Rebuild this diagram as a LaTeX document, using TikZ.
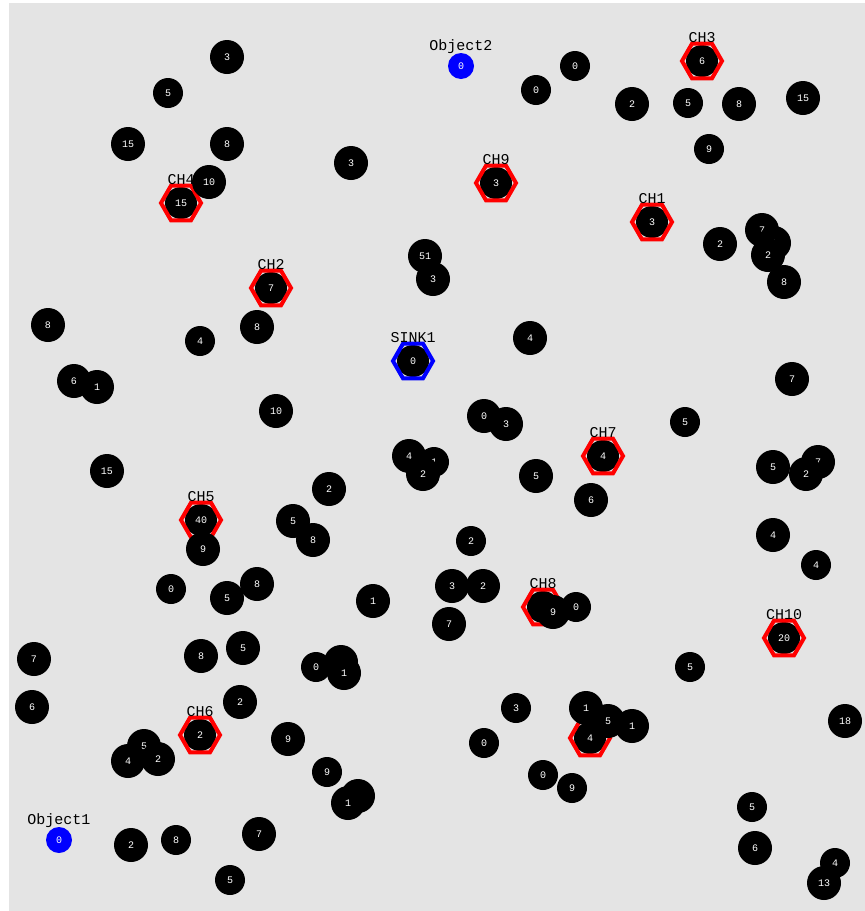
\documentclass[tikz,border=0pt]{standalone}
\usepackage{fontspec}
\setmonofont{Liberation Mono}
\usetikzlibrary{positioning,shapes.geometric}
\definecolor{cField}{HTML}{E4E4E4}
\definecolor{cHead}{HTML}{FF0000}
\definecolor{cSink}{HTML}{0000FF}
\newcommand{\labfont}{\ttfamily\fontsize{15}{15}\selectfont}
\newcommand{\numfont}{\ttfamily\fontsize{10}{10}\selectfont}
\tikzset{
  snode/.style={circle,fill=black,text=white,font=\numfont,inner sep=0pt,minimum size=34pt},
  tnode/.style={snode,minimum size=30pt},
  hnode/.style={regular polygon,regular polygon sides=6,draw=cHead,fill=cField,line width=4pt,inner sep=0pt,minimum size=40pt,
    text=white,font=\numfont,path picture={\fill[black] (path picture bounding box.center) circle (16pt);}},
  knode/.style={hnode,draw=cSink},
  onode/.style={circle,fill=cSink,text=white,font=\numfont,inner sep=0pt,minimum size=26pt},
  lbl/.style={font=\labfont,inner sep=0pt}}
\begin{document}
\begin{tikzpicture}[x=1pt,y=-1pt]
\useasboundingbox (0,0) rectangle (865,911);
\fill[cField] (9,3) rectangle (865,911);
% sink and objects
\node[knode] (sink1) at (413,361) {0};
\node[lbl, above=-1pt of sink1] (lsink1) {SINK1};
\node[onode] (obj1) at (59,840) {0};
\node[lbl, above=-1pt of obj1] (lobj1) {Object1};
\node[onode] (obj2) at (461,66) {0};
\node[lbl, above=-1pt of obj2] (lobj2) {Object2};
% cluster heads
\node[hnode] (ch1) at (652,222) {3};   \node[lbl, above=-1pt of ch1] (lch1) {CH1};
\node[hnode] (ch2) at (271,288) {7};   \node[lbl, above=-1pt of ch2] (lch2) {CH2};
\node[hnode] (ch3) at (702,61) {6};    \node[lbl, above=-1pt of ch3] (lch3) {CH3};
\node[hnode] (ch4) at (181,203) {15};  \node[lbl, above=-1pt of ch4] (lch4) {CH4};
\node[hnode] (ch5) at (201,520) {40};  \node[lbl, above=-1pt of ch5] (lch5) {CH5};
\node[hnode] (ch6) at (200,735) {2};   \node[lbl, above=-1pt of ch6] (lch6) {CH6};
\node[hnode] (ch7) at (603,456) {4};   \node[lbl, above=-1pt of ch7] (lch7) {CH7};
\node[hnode] (ch8) at (543,607) {9};   \node[lbl, above=-1pt of ch8] (lch8) {CH8};
\node[hnode] (ch9) at (496,183) {3};   \node[lbl, above=-1pt of ch9] (lch9) {CH9};
\node[hnode] (ch10) at (784,638) {20}; \node[lbl, above=-1pt of ch10] (lch10) {CH10};
\node[hnode] (ch11) at (590,738) {4};
% ordinary nodes, top band
\node[snode] (n1) at (227,57) {3};  \node[tnode] (n2) at (168,93) {5};  \node[snode] (n3) at (128,144) {15};
\node[snode] (n4) at (227,144) {8}; \node[snode] (n5) at (209,182) {10}; \node[tnode] (n6) at (536,90) {0};
\node[tnode] (n7) at (575,66) {0};  \node[snode] (n8) at (351,163) {3};  \node[snode] (n9) at (425,256) {51};
\node[snode] (n10) at (433,279) {3}; \node[snode] (n11) at (632,104) {2}; \node[tnode] (n12) at (688,103) {5};
\node[snode] (n13) at (739,104) {8}; \node[snode] (n14) at (803,98) {15}; \node[tnode] (n15) at (709,149) {9};
\node[snode] (n16) at (720,244) {2}; \node[snode] (n17) at (762,230) {7}; \node[snode] (n18) at (774,243) {1};
\node[snode] (n19) at (768,255) {2}; \node[snode] (n20) at (784,282) {8};
% middle band
\node[snode] (n21) at (48,325) {8};  \node[tnode] (n22) at (200,341) {4};  \node[snode] (n23) at (257,327) {8};
\node[snode] (n24) at (74,381) {6};  \node[snode] (n25) at (97,387) {1};   \node[snode] (n26) at (276,411) {10};
\node[snode] (n27) at (107,471) {15}; \node[snode] (n28) at (203,549) {9}; \node[tnode] (n29) at (171,589) {0};
\node[snode] (n30) at (257,584) {8}; \node[snode] (n31) at (227,598) {5};  \node[snode] (n32) at (293,521) {5};
\node[snode] (n33) at (313,540) {8}; \node[snode] (n34) at (530,338) {4};  \node[snode] (n35) at (484,416) {0};
\node[snode] (n36) at (506,424) {3}; \node[snode] (n37) at (409,456) {4};  \node[tnode] (n38) at (434,462) {1};
\node[snode] (n39) at (423,474) {2}; \node[snode] (n40) at (536,476) {5};  \node[snode] (n41) at (329,489) {2};
\node[snode] (n42) at (591,500) {6}; \node[tnode] (n43) at (471,541) {2};  \node[snode] (n44) at (452,586) {3};
\node[snode] (n45) at (483,586) {2}; \node[snode] (n46) at (373,601) {1};  \node[snode] (n47) at (792,379) {7};
\node[tnode] (n48) at (685,422) {5}; \node[snode] (n49) at (773,467) {5};  \node[snode] (n50) at (818,462) {7};
\node[snode] (n51) at (806,474) {2}; \node[snode] (n52) at (773,535) {4};  \node[tnode] (n53) at (816,565) {4};
% bottom band
\node[snode] (n54) at (34,659) {7};  \node[snode] (n55) at (32,707) {6};   \node[snode] (n56) at (201,656) {8};
\node[snode] (n57) at (243,648) {5}; \node[snode] (n58) at (240,702) {2};  \node[snode] (n59) at (288,739) {9};
\node[snode] (n60) at (144,746) {5}; \node[snode] (n61) at (128,761) {4};  \node[snode] (n62) at (158,759) {2};
\node[snode] (n63) at (131,845) {2}; \node[tnode] (n64) at (176,840) {8};  \node[snode] (n65) at (259,834) {7};
\node[tnode] (n66) at (230,880) {5}; \node[snode] (n67) at (449,624) {7};  \node[snode] (n68) at (553,612) {9};
\node[tnode] (n69) at (576,607) {0}; \node[tnode] (n70) at (316,667) {0};  \node[snode] (n71) at (341,662) {4};
\node[snode] (n72) at (344,673) {1}; \node[tnode] (n73) at (516,708) {3};  \node[tnode] (n74) at (484,743) {0};
\node[snode] (n75) at (586,708) {1}; \node[snode] (n76) at (608,721) {5};  \node[snode] (n77) at (632,726) {1};
\node[tnode] (n78) at (327,772) {9}; \node[snode] (n79) at (358,796) {7};  \node[snode] (n80) at (348,803) {1};
\node[tnode] (n81) at (543,775) {0}; \node[tnode] (n82) at (572,788) {9};  \node[tnode] (n83) at (690,667) {5};
\node[snode] (n84) at (845,721) {18}; \node[tnode] (n85) at (752,807) {5}; \node[snode] (n86) at (755,848) {6};
\node[tnode] (n87) at (835,863) {4}; \node[snode] (n88) at (824,883) {13};
\end{tikzpicture}
\end{document}
